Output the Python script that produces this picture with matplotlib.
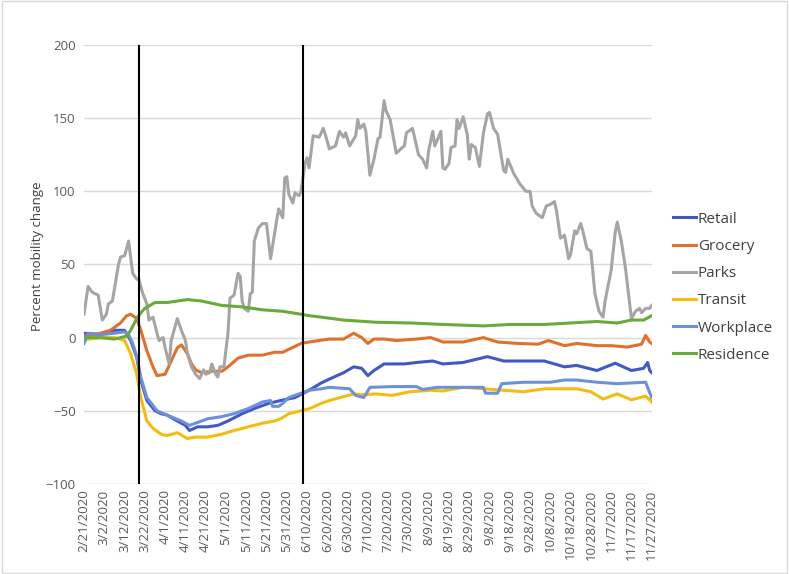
import matplotlib.pyplot as plt

# x axis: day number counted from 2/21/2020
tick_labels = ['2/21/2020', '3/2/2020', '3/12/2020', '3/22/2020', '4/1/2020', '4/11/2020',
               '4/21/2020', '5/1/2020', '5/11/2020', '5/21/2020', '5/31/2020', '6/10/2020',
               '6/20/2020', '6/30/2020', '7/10/2020', '7/20/2020', '7/30/2020', '8/9/2020',
               '8/19/2020', '8/29/2020', '9/8/2020', '9/18/2020', '9/28/2020', '10/8/2020',
               '10/18/2020', '10/28/2020', '11/7/2020', '11/17/2020', '11/27/2020']
tick_days = [10 * i for i in range(len(tick_labels))]

# policy dates (3/19 and 6/8)
event_days = [27, 108]

# (day, value) per series
retail_days = [0, 8, 15, 20, 23, 26, 28, 31, 35, 38, 41, 46, 50, 52, 56, 61, 66, 71, 78, 84, 91, 97,
               104, 111, 117, 120, 128, 133, 137, 140, 143, 148, 158, 164, 172, 177, 187, 199, 207,
               227, 237, 243, 253, 262, 270, 276, 278, 279, 280]
retail_vals = [3, 2, 5, 5, -2, -13.5, -29, -43, -50, -52, -53, -57, -60, -63.5, -61, -61, -60, -57,
               -52, -48.5, -45, -43, -41, -36, -31, -29, -24, -20, -21, -26, -22.5, -18, -18, -17,
               -16, -18, -17, -13, -16, -16, -20, -19, -22.5, -17.5, -22.5, -21, -17, -22.5, -24]

grocery_days = [0, 8, 13, 18, 21, 23, 26, 28, 31, 34, 36, 40, 43, 46, 48, 51, 53, 55, 58, 63, 68,
                71, 76, 81, 88, 94, 98, 101, 107, 111, 116, 121, 128, 133, 137, 140, 143, 148, 154,
                164, 171, 177, 187, 197, 204, 214, 224, 229, 237, 243, 253, 260, 268, 275, 277,
                279, 280]
grocery_vals = [1, 3, 5, 10, 15, 16, 13, 5, -9, -20, -26, -25, -16, -7, -5, -11, -18, -22, -24,
                -23, -23, -20, -14, -12, -12, -10, -10, -8, -4, -3, -2, -1, -1, 3, 0, -4, -1, -1,
                -2, -1, 0, -3, -3, 0, -3, -4, -4.5, -2, -5.5, -4, -5.5, -5.5, -6.5, -4.5, 1.5, -3, -4]

parks_days = [0, 2, 4, 7, 9, 11, 12, 14, 17, 18, 20, 22, 23, 24, 26, 27, 29, 31, 32, 34, 36, 37,
              39, 40, 42, 43, 46, 48, 50, 51, 53, 55, 57, 59, 60, 62, 63, 65, 66, 67, 69, 71, 72,
              74, 76, 77, 78, 79, 81, 82, 83, 84, 86, 88, 90, 92, 95, 96, 98, 99, 100, 101, 103,
              104, 106, 107, 109, 110, 111, 113, 116, 118, 119, 121, 124, 126, 128, 129, 131, 134,
              135, 136, 138, 139, 141, 143, 145, 146, 148, 149, 151, 154, 157, 158, 159, 162, 163,
              165, 167, 169, 170, 172, 173, 176, 177, 178, 180, 181, 183, 184, 185, 187, 189, 190,
              191, 193, 195, 197, 199, 200, 202, 204, 207, 208, 209, 212, 215, 218, 220, 221, 223,
              226, 228, 230, 232, 233, 235, 237, 239, 240, 242, 243, 245, 246, 248, 250, 252, 254,
              256, 257, 260, 262, 263, 265, 267, 269, 270, 272, 274, 275, 277, 279, 280]
parks_vals = [16, 35, 31, 29, 12, 16, 23, 25, 50, 55, 56, 66, 55, 44, 40, 40, 30, 23, 12, 14, 3, -2,
              0, -7, -18, -2, 13, 5, -2, -11, -20, -25, -28, -22, -25, -24, -18, -25, -27, -20, -20,
              3, 27, 29, 44, 42, 25, 20, 18, 30, 31, 66, 75, 78, 78, 54, 80, 88, 82, 109, 110, 98,
              92, 99, 97, 100, 119, 123, 116, 138, 137, 143, 139, 129, 131, 141, 137, 140, 131, 138,
              149, 143, 146, 141, 111, 122, 136, 137, 162, 155, 149, 126, 130, 131, 140, 143, 137,
              125, 122, 116, 128, 141, 131, 141, 116, 115, 119, 130, 131, 149, 143, 151, 139, 122,
              132, 130, 117, 140, 153, 154, 143, 139, 114, 113, 122, 112, 105, 100, 100, 90, 85, 82,
              90, 91, 93, 87, 68, 70, 54, 57, 73, 71, 78, 73, 61, 59, 30, 18, 14, 25, 46, 72, 79,
              66, 48, 25, 13, 18, 20, 17, 20, 20, 22]

transit_days = [0, 8, 15, 20, 23, 26, 28, 31, 34, 38, 41, 46, 51, 55, 61, 68, 74, 81, 88, 94, 97,
                101, 107, 111, 117, 121, 133, 138, 144, 152, 161, 171, 177, 187, 197, 207, 217,
                227, 243, 250, 256, 263, 270, 277, 280]
transit_vals = [-1.5, 0, 0, -2, -11, -25, -41, -57, -62, -66, -67, -65, -69, -68, -68, -66, -63.5,
                -61, -58.5, -57, -55.5, -52, -50, -48.7, -45, -43, -38.5, -39, -38.5, -39.5, -37,
                -36, -36.5, -34, -35, -36, -37, -35, -35, -37, -42, -38.5, -42.5, -40, -44]

workplace_days = [0, 2, 8, 15, 20, 22, 24, 26, 28, 31, 36, 41, 48, 52, 56, 61, 68, 74, 81, 88, 92,
                  93, 96, 98, 101, 107, 111, 117, 121, 131, 134, 138, 141, 152, 164, 167, 174, 184,
                  197, 198, 204, 206, 217, 230, 237, 243, 253, 263, 277, 280]
workplace_vals = [-4, 3, 2, 3, 4, 2, -4, -13, -27, -41, -50, -53, -57, -60, -58, -55.5, -54, -52,
                  -48.5, -44, -43, -47, -47, -45, -41, -38, -36, -35, -34, -35, -39.5, -41, -34,
                  -33.5, -33.5, -35.5, -34, -34, -34, -38, -38, -31.5, -30.5, -30.5, -29, -29,
                  -30.5, -31.5, -30.5, -41]

residence_days = [0, 8, 15, 21, 23, 26, 28, 30, 35, 41, 51, 58, 68, 78, 88, 98, 107, 111, 117, 128,
                  144, 161, 177, 197, 210, 227, 240, 253, 263, 270, 276, 280]
residence_vals = [0, 0, -1, 1, 5, 13, 17, 20, 24, 24, 26, 25, 22, 21, 19, 18, 16, 15, 14, 12, 10.5,
                  10, 9, 8, 9, 9, 10, 11, 10, 12, 12, 15]

fig = plt.figure(figsize=(7.89, 5.74), dpi=100)
ax = fig.add_axes([0.1065, 0.157, 0.7195, 0.7645])

# light frame around the whole chart
fig.patches.append(plt.Rectangle((0.002, 0.002), 0.996, 0.996, transform=fig.transFigure,
                                 fill=False, edgecolor='#D9D9D9', linewidth=1))

lw = 2.2
ax.plot(retail_days, retail_vals, color='#4258C4', lw=lw, label='Retail')
ax.plot(grocery_days, grocery_vals, color='#E0702A', lw=lw, label='Grocery')
ax.plot(parks_days, parks_vals, color='#A5A5A5', lw=lw, label='Parks')
ax.plot(transit_days, transit_vals, color='#F5BC10', lw=lw, label='Transit')
ax.plot(workplace_days, workplace_vals, color='#6A91DA', lw=lw, label='Workplace')
ax.plot(residence_days, residence_vals, color='#6AAA3A', lw=lw, label='Residence')

for d in event_days:
    ax.axvline(d, color='black', lw=1.5, zorder=5)

ax.set_xlim(0, 280)
ax.set_ylim(-100, 200)
ax.set_yticks([-100, -50, 0, 50, 100, 150, 200])
ax.set_xticks(tick_days)
ax.set_xticklabels(tick_labels, rotation=90)
ax.grid(axis='y', color='#D9D9D9', lw=1)
ax.set_axisbelow(True)
for s in ax.spines.values():
    s.set_visible(False)
ax.tick_params(length=0, labelsize=9.5, labelcolor='#595959', pad=6)
ax.tick_params(axis='x', pad=4)
for t in ax.get_xticklabels() + ax.get_yticklabels():
    t.set_family('Open Sans')

ax.set_ylabel('Percent mobility change', fontsize=9.5, color='#404040', family='Open Sans',
              labelpad=2)
ax.yaxis.set_label_coords(-0.071, 0.52)

leg = ax.legend(loc='center left', bbox_to_anchor=(1.037, 0.448), frameon=False,
                prop={'family': 'Open Sans', 'size': 11}, handlelength=1.5,
                handletextpad=0.15, labelspacing=0.8, borderaxespad=0, borderpad=0)
for t in leg.get_texts():
    t.set_color('#404040')

fig.savefig('out.png', dpi=100)
